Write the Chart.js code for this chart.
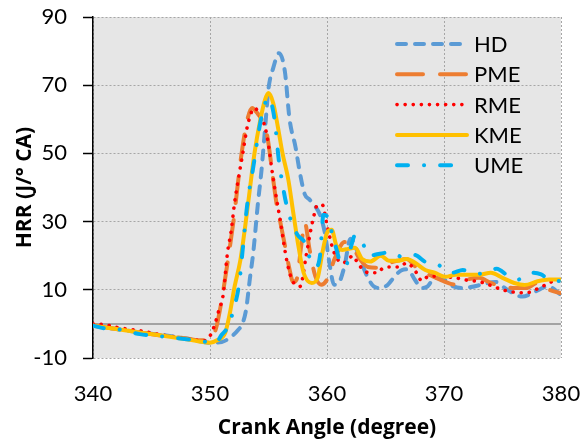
<!DOCTYPE html>
<html>
<head>
<meta charset="utf-8">
<script src="https://cdn.jsdelivr.net/npm/chart.js@4.4.1/dist/chart.umd.min.js"></script>
<style>
  html, body { margin: 0; padding: 0; background: #fff; }
  #hrr { display: block; }
</style>
</head>
<body>
<canvas id="hrr" width="585" height="443"></canvas>
<script>
// crank angle (deg) and heat release rate (J/°CA)
const hdAngle = [340, 342, 344, 346, 348, 350, 351, 351.8, 352.4, 352.8, 353.1, 353.4, 353.7, 354.1, 354.4, 354.7, 355, 355.4, 355.9, 356.4, 356.8, 357.3, 357.7, 358.1, 358.5, 359, 359.4, 359.8, 360.2, 360.6, 361, 361.5, 362, 362.5, 363, 363.5, 364, 364.6, 365.2, 365.8, 366.4, 366.9, 367.5, 368.1, 368.6, 369.2, 370, 370.8, 371.5, 372.3, 373.2, 374.4, 375.4, 376.7, 377.8, 378.9, 380];
const hdHrr = [-0.5, -1.5, -2.5, -3.3, -4.3, -5.5, -5.3, -3.8, -1.8, 0.3, 4.5, 13, 21, 35.5, 45, 57, 69, 75, 79.4, 74, 60, 52, 44, 38, 36.5, 34.5, 32, 27, 18, 11.5, 12, 17, 25, 22, 17.5, 13.5, 11, 10.5, 11.5, 14, 15.8, 16, 13, 10.5, 11, 13.5, 13, 11, 10.5, 10.8, 11.5, 12.3, 10, 8, 9.5, 11, 8.5];

const pmeAngle = [340, 341, 342, 344, 346, 348, 349, 350, 350.5, 351, 351.5, 352, 352.7, 353.2, 353.6, 354, 354.4, 354.9, 355.3, 355.7, 356, 356.4, 356.8, 357.1, 357.4, 357.8, 358.1, 358.5, 359, 359.5, 360, 360.7, 361.5, 362.2, 362.8, 363.5, 364.2, 365, 366, 366.8, 367.5, 368, 369, 370, 371, 372, 373, 374, 375, 376, 377, 378, 379, 380];
const pmeHrr = [-0.3, -1, -1.5, -2.5, -3.5, -4.3, -4.8, -4.5, -1.5, 7, 18, 30, 50, 60, 63.3, 62, 60, 55, 45, 35, 30, 23, 16, 12.3, 13, 23, 29.7, 22, 14, 11.5, 13, 19.5, 24, 22.5, 19, 16.7, 16.5, 17.5, 18.5, 19, 17, 15.5, 14, 12.5, 11.5, 13, 13.5, 12, 11, 10.5, 10.5, 12, 10, 9];

const rmeAngle = [340, 341, 342, 344, 346, 348, 349.5, 350, 350.4, 350.8, 351.1, 351.5, 351.8, 352.1, 352.4, 352.8, 353.2, 353.8, 354.3, 354.7, 355, 355.3, 355.6, 356, 356.3, 356.6, 357, 357.7, 358.2, 358.5, 358.8, 359.2, 359.6, 360, 360.5, 361, 361.4, 361.8, 362.2, 362.6, 363.1, 363.6, 364.3, 364.8, 365.5, 366.2, 366.8, 367.3, 367.7, 368.1, 368.6, 369.3, 370.2, 371, 372, 373, 374, 375, 376, 377, 378, 379, 379.6, 380];
const rmeHrr = [0, -0.2, -1, -2, -3.3, -4.3, -5, -3.5, -0.3, 4.5, 8, 21, 27, 35.5, 42, 50, 58, 63.3, 61, 57.8, 52.5, 45, 38.4, 30.5, 23.8, 17.9, 13, 11, 19.6, 25.5, 30.5, 34.9, 34.9, 29, 22, 18.5, 17.9, 18.8, 20, 18, 15.8, 15, 15, 16.4, 16.7, 16.7, 17.9, 16.7, 14.7, 12.6, 13.8, 14, 13.8, 13.5, 12.8, 12.4, 11.3, 10, 9.3, 9.1, 10.3, 12, 13, 12.5];

const kmeAngle = [340, 342, 344, 346, 348, 350, 350.6, 351.3, 351.7, 352.1, 352.6, 353, 353.4, 353.8, 354.3, 354.7, 355, 355.4, 355.8, 356.2, 356.7, 357.1, 357.5, 358, 358.7, 359.2, 359.6, 360, 360.4, 360.8, 361.3, 361.8, 362.4, 363, 363.7, 364.6, 365.3, 366, 366.8, 367.5, 368.4, 369.2, 370.1, 371, 372, 373, 374, 375, 376, 376.9, 378, 379, 380];
const kmeHrr = [-0.5, -1.5, -2.5, -3.5, -4.5, -5.5, -4.8, -2.6, 3.2, 10.9, 18.8, 28.4, 39.3, 50, 59.8, 65.7, 67.7, 64.8, 57.8, 50, 42.2, 33, 24, 15, 12, 13.5, 20.8, 26.7, 27.6, 23, 21.7, 22, 22.3, 19, 18.3, 20, 18.5, 18.5, 19, 18, 15.8, 15, 13.8, 14.4, 14.4, 14.4, 15, 13.5, 12, 11.4, 12.5, 13, 13];

const umeAngle = [340, 341, 342, 344, 346, 348, 349.5, 350.5, 351, 351.5, 352, 352.5, 352.8, 353.2, 353.7, 354.1, 354.4, 355, 355.5, 355.9, 356.2, 356.5, 357, 357.5, 358.1, 358.5, 359.1, 359.4, 359.7, 360.1, 360.4, 360.8, 361.2, 361.6, 362, 362.4, 363, 363.6, 364.4, 365.4, 366.5, 367.5, 368.4, 369.5, 370.7, 371.6, 372.9, 374, 374.5, 375.5, 376.3, 377.5, 378.3, 379, 380];
const umeHrr = [-0.5, -1.3, -1.5, -3, -3.7, -4.5, -5.2, -5.5, -3.2, -1, 4, 12, 22, 35.5, 46, 55, 60.7, 66.3, 60.4, 47.5, 41, 35.5, 29.5, 26, 23.8, 19.6, 16.7, 20, 32, 31, 27, 22, 17.5, 17, 22, 26, 24, 20, 20.5, 21, 19.6, 20.2, 18.2, 17.3, 15, 15.8, 14.7, 15.5, 16.2, 14, 13, 15, 14.5, 13, 12.5];

const fuelNames = ['HD', 'PME', 'RME', 'KME', 'UME'];
const angleTicks = [340, 350, 360, 370, 380];
const hrrTicks = [-10, 10, 30, 50, 70, 90];

const pts = (xs, ys) => xs.map((x, i) => ({x: x, y: ys[i]}));

const FONT = 'Lato';
const TITLE_FONT = {family: 'Open Sans', size: 21, weight: 'bold'};

const series = [
  {data: pts(hdAngle, hdHrr), color: '#5B9BD5', dash: [9, 9], width: 4},
  {data: pts(pmeAngle, pmeHrr), color: '#ED7D31', dash: [26, 17], width: 4},
  {data: pts(rmeAngle, rmeHrr), color: '#FF0000', dash: [0.1, 8], width: 3.6},
  {data: pts(kmeAngle, kmeHrr), color: '#FFC000', dash: [], width: 4},
  {data: pts(umeAngle, umeHrr), color: '#00B0F0', dash: [11, 16, 0.1, 16], width: 4}
];

const plotBg = {
  id: 'plotBg',
  beforeDraw(chart) {
    const a = chart.chartArea, c = chart.ctx;
    c.save();
    c.fillStyle = '#e6e6e6';
    c.fillRect(a.left, a.top, a.right - a.left, a.bottom - a.top);
    c.restore();
  },
  beforeDatasetsDraw(chart) {
    // x axis crosses at 0
    const a = chart.chartArea, c = chart.ctx;
    const y0 = chart.scales.y.getPixelForValue(0);
    c.save();
    c.strokeStyle = '#8c8c8c';
    c.lineWidth = 1.5;
    c.beginPath();
    c.moveTo(a.left, y0);
    c.lineTo(a.right, y0);
    c.stroke();
    c.restore();
  }
};

const lineLegend = {
  id: 'lineLegend',
  afterDatasetsDraw(chart) {
    const a = chart.chartArea, c = chart.ctx;
    const x0 = a.left + 304, x1 = a.left + 374;
    c.save();
    c.font = '22px ' + FONT;
    c.textBaseline = 'middle';
    c.fillStyle = '#000';
    chart.data.datasets.forEach((ds, i) => {
      const y = a.top + 27 + i * 30.3;
      c.strokeStyle = ds.borderColor;
      c.lineWidth = ds.borderWidth;
      c.lineCap = 'round';
      c.setLineDash(ds.borderDash);
      c.beginPath();
      c.moveTo(x0, y);
      c.lineTo(x1, y);
      c.stroke();
      c.setLineDash([]);
      c.fillText(ds.label, x1 + 7, y + 1);
    });
    c.restore();
  }
};

const noEdgePad = s => {
  s.paddingLeft = 0; s.paddingRight = 0; s.paddingTop = 0; s.paddingBottom = 0;
};

new Chart(document.getElementById('hrr').getContext('2d'), {
  type: 'line',
  data: {
    datasets: series.map((s, i) => ({
      label: fuelNames[i],
      data: s.data,
      borderColor: s.color,
      backgroundColor: s.color,
      borderWidth: s.width,
      borderDash: s.dash,
      borderCapStyle: 'round',
      borderJoinStyle: 'round',
      pointRadius: 0,
      fill: false,
      cubicInterpolationMode: 'monotone',
      order: fuelNames.length - i
    }))
  },
  options: {
    responsive: false,
    maintainAspectRatio: false,
    devicePixelRatio: 1,
    animation: false,
    layout: {padding: {top: 17, right: 24, left: 0, bottom: 0}},
    plugins: {legend: {display: false}, tooltip: {enabled: false}},
    scales: {
      x: {
        type: 'linear',
        min: 340,
        max: 380,
        afterFit: s => { s.height = 85; noEdgePad(s); },
        afterBuildTicks: s => { s.ticks = angleTicks.map(v => ({value: v})); },
        ticks: {
          font: {family: FONT, size: 22},
          color: '#000',
          padding: 23,
          maxRotation: 0
        },
        grid: {color: '#a6a6a6', lineWidth: 1, drawTicks: false},
        border: {display: false, dash: [2, 2]},
        title: {
          display: true,
          text: 'Crank Angle (degree)',
          font: TITLE_FONT,
          color: '#000',
          padding: {top: 0, bottom: 2}
        }
      },
      y: {
        min: -10,
        max: 90,
        afterFit: s => { s.width = 93; noEdgePad(s); },
        afterBuildTicks: s => { s.ticks = hrrTicks.map(v => ({value: v})); },
        ticks: {
          font: {family: FONT, size: 22},
          color: '#000',
          padding: 16
        },
        grid: {
          color: '#a6a6a6',
          lineWidth: 1,
          tickLength: 10,
          tickColor: '#000',
          tickWidth: 1.5,
          tickBorderDash: []
        },
        border: {display: true, color: '#000', width: 1.5, dash: [2, 2]},
        title: {
          display: true,
          text: 'HRR (J/° CA)',
          font: TITLE_FONT,
          color: '#000',
          padding: {top: 12, bottom: 0}
        }
      }
    }
  },
  plugins: [plotBg, lineLegend]
});
</script>
</body>
</html>
